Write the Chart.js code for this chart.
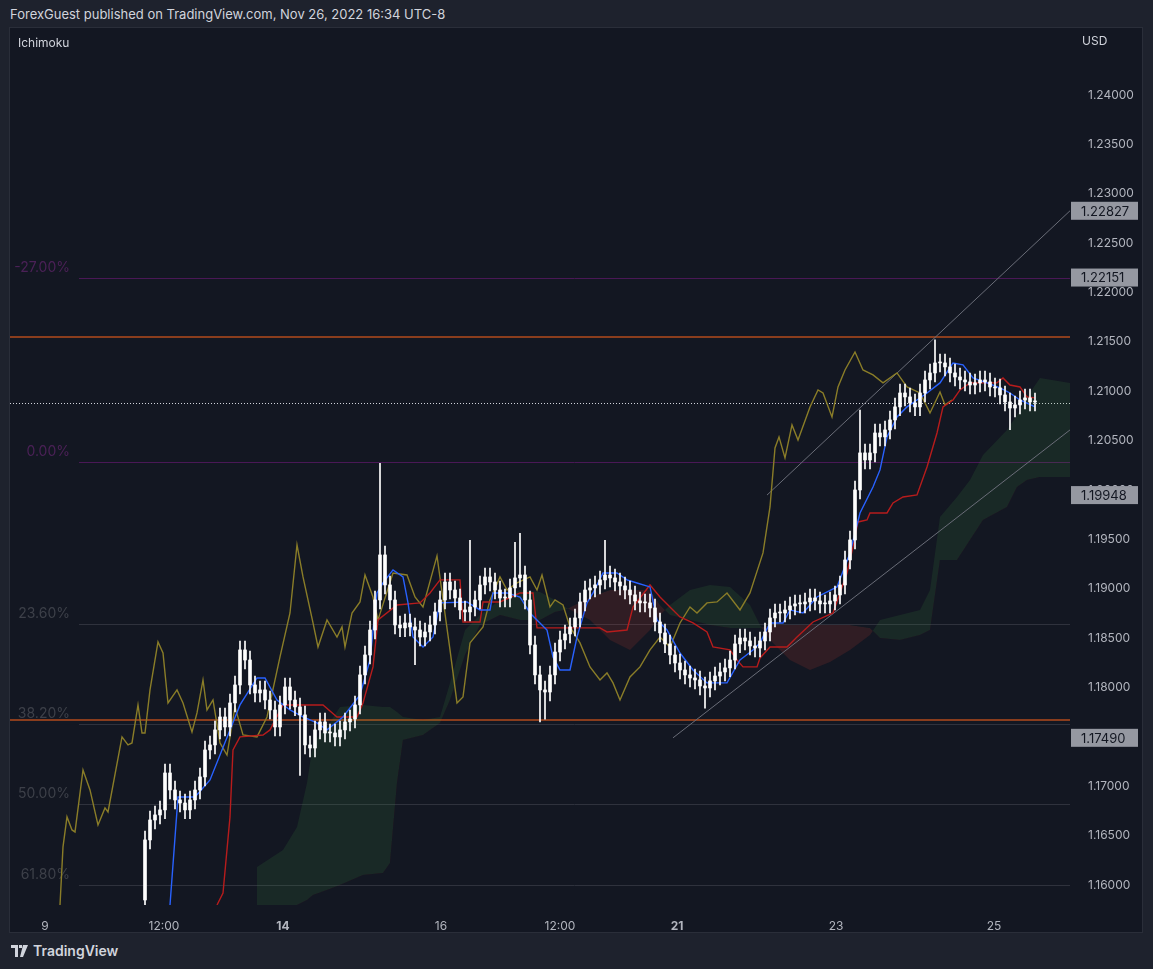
<!DOCTYPE html>
<html><head><meta charset="utf-8">
<script src="https://cdn.jsdelivr.net/npm/chart.js@4/dist/chart.umd.min.js"></script>
<style>
html,body{margin:0;padding:0;background:#1e222d;width:1153px;height:969px;overflow:hidden;font-family:Inter,"Open Sans",sans-serif;}
#hdr{position:absolute;left:10px;top:6px;color:#d1d4dc;font-size:13px;}
#panel{position:absolute;left:9px;top:27px;width:1134px;height:906px;border:1px solid #2a2e39;background:#131722;box-sizing:border-box;}
#wrap{position:absolute;left:10px;top:28px;width:1133px;height:905px;}
#ichi{position:absolute;left:18px;top:35px;color:#d1d4dc;font-size:12px;}
#usd{position:absolute;left:1082px;top:33px;color:#d1d4dc;font-size:12px;}
#foot{position:absolute;left:11px;top:942px;color:#d1d4dc;font-size:14px;font-weight:600;display:flex;align-items:center;gap:4px;}
</style></head><body>
<div id="hdr">ForexGuest published on TradingView.com, Nov 26, 2022 16:34 UTC-8</div>
<div id="panel"></div>
<div id="wrap"><canvas id="c" width="1133" height="905"></canvas></div>
<div id="ichi">Ichimoku</div>
<div id="usd">USD</div>
<div id="foot"><svg width="18" height="12" viewBox="0 0 18 12"><path d="M0 0h7v12H4V3H0z M8 0h3v3H8z M12 0h5l-5 12H9z" fill="#d1d4dc"/></svg>TradingView</div>
<script>
// ---- data ----
const firstOpen = 1.15848;
const closes = [1.16456,1.16658,1.16709,1.16760,1.17134,1.16962,1.16861,1.16830,1.16760,1.16861,
1.16962,1.17094,1.17367,1.17418,1.17570,1.17701,1.17600,1.17843,1.18025,1.18380,
1.18278,1.18025,1.17944,1.17975,1.17873,1.17772,1.17600,1.17823,1.18005,1.17873,
1.17803,1.17722,1.17418,1.17387,1.17570,1.17651,1.17539,1.17539,1.17499,1.17570,
1.17651,1.17681,1.17823,1.18127,1.18329,1.18582,1.18886,1.19342,1.19038,1.18886,
1.18633,1.18603,1.18653,1.18613,1.18582,1.18511,1.18562,1.18633,1.18765,1.18886,
1.19068,1.18987,1.18906,1.18785,1.18765,1.18815,1.18886,1.19038,1.19119,1.19068,
1.18987,1.18906,1.18906,1.19008,1.19109,1.19139,1.18886,1.18430,1.18127,1.17975,
1.17954,1.18127,1.18359,1.18481,1.18542,1.18613,1.18704,1.18866,1.18987,1.19008,
1.19038,1.19089,1.19139,1.19109,1.19068,1.19028,1.18987,1.18937,1.18876,1.18856,
1.18856,1.18805,1.18663,1.18552,1.18441,1.18329,1.18248,1.18177,1.18127,1.18096,
1.18076,1.18015,1.17995,1.18066,1.18116,1.18157,1.18198,1.18278,1.18441,1.18501,
1.18471,1.18420,1.18400,1.18471,1.18562,1.18704,1.18754,1.18754,1.18785,1.18825,
1.18846,1.18846,1.18866,1.18906,1.18876,1.18846,1.18846,1.18876,1.18937,1.19038,
1.19291,1.19494,1.20000,1.20375,1.20304,1.20375,1.20577,1.20537,1.20608,1.20709,
1.20841,1.20982,1.20942,1.20881,1.20841,1.20982,1.21114,1.21185,1.21286,1.21286,
1.21246,1.21185,1.21144,1.21114,1.21094,1.21063,1.21084,1.21114,1.21094,1.21043,
1.21033,1.20962,1.20891,1.20830,1.20861,1.20911,1.20932,1.20891,1.20891];
const wickPad = 0.0009;
const highIdx = [47,65,74,75,92,143,158];
const highVal = [1.2027,1.1949,1.1947,1.1956,1.1949,1.2081,1.2152];
const lowIdx = [0,31,54,79,80,112,173];
const lowVal = [1.1575,1.1711,1.1823,1.1765,1.1768,1.1779,1.2061];

const tenkan = [[5,1.15797],[6.6,1.16891],[10,1.16891],[13,1.17063],[17,1.17570],[19,1.17823],[22.4,1.18096],[24,1.18096],[26.4,1.17873],[29,1.17772],[31.6,1.17701],[34.4,1.17641],[36.4,1.17570],[39.6,1.17701],[43,1.17924],[45,1.18278],[46.4,1.18957],[47.6,1.19058],[49.6,1.19190],[51.6,1.19119],[52.6,1.18856],[53.6,1.18511],[55.6,1.18410],[57.6,1.18511],[59,1.18856],[64.4,1.18866],[67,1.18785],[69,1.18785],[69.6,1.18957],[72.4,1.18957],[75,1.18916],[77,1.18754],[80.4,1.18582],[81.6,1.18309],[83,1.18177],[85,1.18177],[86.4,1.18511],[88.4,1.18856],[89.6,1.18957],[91.6,1.19159],[94.4,1.19159],[96.4,1.19089],[98.4,1.19058],[101,1.19018],[102.4,1.18684],[104.4,1.18582],[107,1.18349],[109.6,1.18177],[112.4,1.18046],[116.4,1.18046],[119,1.18278],[121.6,1.18380],[123,1.18451],[125,1.18653],[127.6,1.18653],[129,1.18785],[131.6,1.18754],[134.4,1.18916],[138.4,1.19018],[141,1.19362],[143,1.19767],[145.6,1.20030],[147,1.20203],[148.4,1.20537],[150.4,1.20739],[152.4,1.20841],[154.4,1.20911],[156.4,1.20982],[159,1.21084],[161.6,1.21286],[163.6,1.21266],[165.6,1.21134],[168.4,1.21084],[171,1.21033],[173,1.20982],[175,1.20911],[178,1.20841]];
const kijun = [[14.4,1.15797],[15.6,1.15919],[17,1.16689],[17.6,1.17367],[19,1.17499],[23.6,1.17519],[25,1.17570],[27.6,1.17823],[35.6,1.17823],[38.4,1.17701],[42.4,1.17701],[43.6,1.17843],[45.6,1.18208],[46.6,1.18684],[50.4,1.18835],[55,1.18856],[57,1.18957],[59,1.19089],[63,1.19089],[63.6,1.18663],[67,1.18663],[67.6,1.18866],[71,1.18866],[75,1.18957],[77.6,1.18957],[78.4,1.18603],[91,1.18603],[92.4,1.18562],[96.4,1.18582],[97.6,1.18815],[101,1.19038],[103,1.18916],[105.6,1.18785],[107,1.18714],[109.6,1.18653],[112.4,1.18562],[113.6,1.18410],[117,1.18380],[118.4,1.18278],[119.6,1.18208],[122.4,1.18208],[123,1.18299],[125,1.18410],[128.4,1.18410],[130.4,1.18511],[133.6,1.18663],[137.6,1.18754],[139,1.18957],[140.4,1.19159],[141.6,1.19423],[142.6,1.19676],[144.4,1.19696],[145,1.19767],[148.4,1.19767],[149.6,1.19868],[151.6,1.19929],[154.4,1.19949],[156.4,1.20233],[158.4,1.20577],[159.6,1.20841],[161.6,1.20911],[163,1.21013],[165,1.21084],[170.4,1.21084],[171.6,1.21134],[173,1.21063],[175,1.21043],[176.4,1.20942],[178,1.20932]];
const chikou = [[-17,1.15797],[-16.4,1.16385],[-15.6,1.16689],[-14.6,1.16557],[-14,1.16537],[-12.4,1.17165],[-11,1.16962],[-9.4,1.16608],[-8,1.16780],[-7.4,1.16739],[-4.6,1.17499],[-3.4,1.17418],[-2.6,1.17438],[-1.4,1.17823],[-0.6,1.17539],[0,1.17539],[1,1.17975],[2.6,1.18461],[3.6,1.18349],[4.6,1.17843],[6.4,1.17975],[7.6,1.17843],[9.4,1.17549],[10.4,1.17742],[11.6,1.18076],[12.4,1.17772],[13.6,1.17873],[15,1.17438],[16.4,1.17316],[18,1.17803],[19.6,1.17519],[22.4,1.17499],[24.4,1.17701],[27,1.18309],[29,1.18754],[30.4,1.19443],[31.6,1.19119],[33.6,1.18653],[34.6,1.18410],[36.4,1.18684],[38.4,1.18511],[39.4,1.18613],[40,1.18410],[41.4,1.18754],[43,1.18866],[44,1.19139],[45.6,1.18916],[46.6,1.18684],[49.6,1.19159],[52.4,1.19139],[54,1.18916],[55.6,1.18815],[58.4,1.19332],[61,1.18380],[62.4,1.17843],[63.6,1.17904],[65,1.18451],[67.6,1.18613],[69,1.18886],[71,1.19119],[72.4,1.18987],[74.4,1.19058],[77,1.19119],[78.4,1.18987],[79.4,1.19139],[81,1.18815],[82,1.18886],[83.6,1.18835],[85,1.18613],[87,1.18451],[89,1.18208],[91,1.18076],[92.4,1.18147],[93.6,1.18046],[95,1.17873],[97,1.18106],[99,1.18208],[101,1.18380],[103,1.18511],[105,1.18410],[107,1.18653],[109,1.18815],[110.4,1.18754],[112.4,1.18856],[114.4,1.18866],[116.4,1.18957],[119,1.18785],[121,1.18957],[123.6,1.19362],[125,1.19828],[126,1.20425],[126.8,1.20537],[128,1.20324],[129.4,1.20658],[130.6,1.20506],[133,1.20841],[134.6,1.21013],[135.6,1.20982],[137.4,1.20739],[138.6,1.21043],[140,1.21215],[142,1.21397],[143.6,1.21215],[145.6,1.21165],[147.6,1.21084],[150.4,1.21185],[152.4,1.21043],[155,1.20982],[157,1.20780],[159,1.20992],[160,1.20861],[161.4,1.20911]];
const cloudBars = [22.4,27.6,30.4,32.4,33.6,36.4,39,43.6,47.6,49,50.4,51.6,55.6,59,61,64,67,71,75,79,82,84,89,93,97,101,103,105,109,113,117,121,123,125,129,133,137,141,145,147,151,155,157,159,162.4,165,167.6,172.4,174.4,176.4,179,185];
const spanA = [1.16182,1.16355,1.16587,1.17033,1.17438,1.17600,1.17803,1.17823,1.17803,1.17803,1.17752,1.17701,1.17671,1.17701,1.18046,1.18582,1.18734,1.18886,1.18987,1.18967,1.18886,1.18815,1.18684,1.18481,1.18380,1.18582,1.18734,1.18835,1.18987,1.19038,1.19018,1.18835,1.18633,1.18481,1.18278,1.18177,1.18258,1.18380,1.18532,1.18684,1.18734,1.18785,1.18987,1.19727,1.19929,1.20101,1.20354,1.20608,1.20760,1.20942,1.21134,1.21084];
const spanB = [1.15797,1.15797,1.15797,1.15848,1.15899,1.15949,1.16000,1.16101,1.16122,1.16223,1.17033,1.17469,1.17519,1.17640,1.17873,1.18329,1.18633,1.18734,1.18684,1.18684,1.18765,1.18785,1.18916,1.18987,1.18987,1.18987,1.18835,1.18734,1.18684,1.18633,1.18603,1.18603,1.18603,1.18633,1.18633,1.18633,1.18633,1.18633,1.18603,1.18501,1.18481,1.18532,1.18582,1.19291,1.19291,1.19494,1.19696,1.19828,1.20030,1.20101,1.20132,1.20132];
const trendUp = [[124.4,1.19948],[185,1.22827]];
const trendDown = [[105.6,1.17490],[185,1.20608]];
const fibLabels = ["-27.00%","0.00%","23.60%","38.20%","50.00%","61.80%"];
const fibPrices = [1.22151,1.20283,1.18644,1.17633,1.16815,1.15997];
const hLevels = [1.21549,1.17671];
const lastPrice = 1.20881;
const axisTags = [1.22827,1.22151,1.19948,1.17490];
const yTicks = [1.16,1.165,1.17,1.175,1.18,1.185,1.19,1.195,1.20,1.205,1.21,1.215,1.22,1.225,1.23,1.235,1.24];
const xTickBars = [-20,3.8,27.6,59.2,83,106.4,138.2,169.8];
const xTickLabels = ["9","12:00","14","16","12:00","21","23","25"];
const xBold = ["14","21"];

// ---- build ----
const bodies=[], wicks=[];
let prev = firstOpen;
closes.forEach((c,i)=>{
  const o = prev;
  let h = Math.max(o,c)+wickPad, l = Math.min(o,c)-wickPad;
  const hi = highIdx.indexOf(i); if(hi>=0) h = highVal[hi];
  const li = lowIdx.indexOf(i); if(li>=0) l = lowVal[li];
  bodies.push({x:i,y:[o,c]}); wicks.push({x:i,y:[l,h]});
  prev = c;
});
const pts = a=>a.map(p=>({x:p[0],y:p[1]}));
const lineDs=(label,data,color,order,extra)=>Object.assign({type:'line',label,data,borderColor:color,borderWidth:1.4,pointRadius:0,tension:0,fill:false,order},extra||{});

const overlay = {
  id:'overlay',
  beforeDatasetsDraw(chart){
    const {ctx, chartArea:a, scales:{y}} = chart;
    ctx.save();
    ctx.font='14px Inter, sans-serif';
    fibPrices.forEach((p,i)=>{
      const py=Math.round(y.getPixelForValue(p))+0.5;
      const purple = i<2;
      ctx.strokeStyle = purple?'#4a1856':'#2f323d';
      ctx.lineWidth=1;
      ctx.beginPath();ctx.moveTo(a.left+69,py);ctx.lineTo(a.right,py);ctx.stroke();
      ctx.fillStyle = purple?'#4b2157':'#3d4049';
      ctx.textBaseline='bottom';ctx.textAlign='right';
      ctx.fillText(fibLabels[i],a.left+60,py-4);
    });
    hLevels.forEach(p=>{
      const py=y.getPixelForValue(p);
      ctx.strokeStyle='#8a3d1d';ctx.lineWidth=2;
      ctx.beginPath();ctx.moveTo(a.left,py);ctx.lineTo(a.right,py);ctx.stroke();
    });
    const lp=Math.round(y.getPixelForValue(lastPrice))+0.5;
    ctx.strokeStyle='#d1d4dc';ctx.lineWidth=1;ctx.setLineDash([1,2]);
    ctx.beginPath();ctx.moveTo(a.left,lp);ctx.lineTo(a.right,lp);ctx.stroke();
    ctx.restore();
  },
  afterDraw(chart){
    const {ctx, chartArea:a, scales:{y}} = chart;
    ctx.save();
    ctx.font='13px Inter, sans-serif';
    axisTags.forEach(p=>{
      const py=y.getPixelForValue(p);
      ctx.fillStyle='#9598a1';
      ctx.fillRect(a.right+1,py-9,67,18);
      ctx.fillStyle='#131722';ctx.textBaseline='middle';ctx.textAlign='left';
      ctx.fillText(p.toFixed(5),a.right+11,py+1);
    });
    ctx.restore();
  }
};

const chart = new Chart(document.getElementById('c'),{
  type:'bar',
  data:{datasets:[
    {type:'bar',data:wicks,backgroundColor:'#ffffff',barThickness:1,order:0,grouped:false},
    {type:'bar',data:bodies,backgroundColor:'#ffffff',barThickness:3,minBarLength:1,order:0,grouped:false},
    lineDs('tenkan',pts(tenkan),'#2962ff',1),
    lineDs('kijun',pts(kijun),'#b71c1c',1),
    lineDs('chikou',pts(chikou),'#8a7d28',1),
    lineDs('trendUp',pts(trendUp),'#6a6d78',1,{borderWidth:1}),
    lineDs('trendDown',pts(trendDown),'#6a6d78',1,{borderWidth:1}),
    lineDs('spanA',cloudBars.map((b,i)=>({x:b,y:spanA[i]})),'rgba(0,0,0,0)',5,{borderWidth:0,fill:{target:'+1',above:'rgba(67,160,71,0.13)',below:'rgba(244,67,54,0.13)'}}),
    lineDs('spanB',cloudBars.map((b,i)=>({x:b,y:spanB[i]})),'rgba(0,0,0,0)',5,{borderWidth:0})
  ]},
  options:{
    responsive:false,animation:false,
    layout:{padding:{top:0}},
    plugins:{legend:{display:false},tooltip:{enabled:false}},
    scales:{
      x:{type:'linear',min:-27,max:185,offset:false,
        grid:{display:false},border:{display:false},
        afterBuildTicks(s){s.ticks=xTickBars.map(v=>({value:v}));},
        afterFit(s){s.height=28;},
        ticks:{color:'#b2b5be',maxRotation:0,autoSkip:false,padding:6,
          font:(c)=>({family:'Inter, sans-serif',size:12,weight:(c.tick&&xBold.includes(xTickLabels[xTickBars.indexOf(c.tick.value)]))?'bold':'normal'}),
          callback:(v)=>xTickLabels[xTickBars.indexOf(v)]}},
      y:{position:'right',min:1.15797,max:1.24678,
        grid:{display:false},border:{display:false},
        afterBuildTicks(s){s.ticks=yTicks.map(v=>({value:v}));},
        afterFit(s){s.width=73; s.paddingTop=0; s.paddingBottom=0;},
        ticks:{color:'#b2b5be',padding:10,font:{family:'Inter, sans-serif',size:12},callback:(v)=>Number(v).toFixed(5)}}
    }
  },
  plugins:[overlay]
});
const ca = chart.chartArea;
if (ca.top > 1) { chart.options.layout.padding.top = -ca.top; chart.update(); }
</script></body></html>
